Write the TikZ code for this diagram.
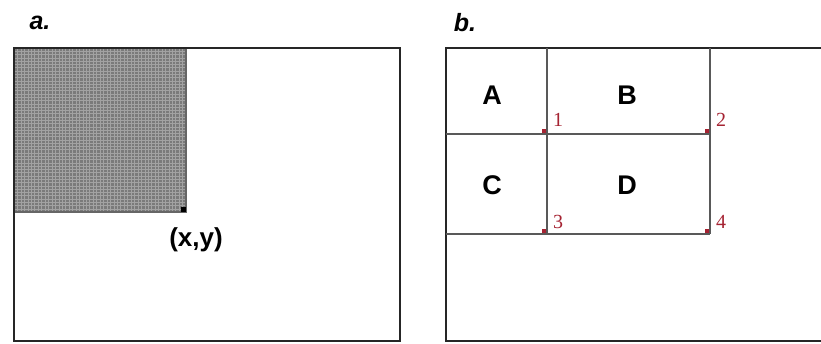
\documentclass[tikz,border=0pt]{standalone}
\usepackage{fontspec}
\setmainfont{Liberation Sans}
\newfontfamily\numfont{Liberation Serif}
\usepackage{xcolor}
\usetikzlibrary{positioning,calc}
\definecolor{cellred}{RGB}{165,35,50}
\definecolor{boxgray}{RGB}{122,122,122}

\begin{document}
\begin{tikzpicture}[x=1pt,y=-1pt,
  frame/.style={line width=1.9pt,black!85},
  cut/.style={line width=2pt,black!65},
  lbl/.style={font=\bfseries\fontsize{27}{27}\selectfont,inner sep=0pt},
  tag/.style={font=\bfseries\itshape\fontsize{25}{25}\selectfont,inner sep=0pt},
  num/.style={font=\numfont\fontsize{20}{20}\selectfont,text=cellred,inner sep=0pt},
  corner/.style={fill=cellred,minimum size=4.5pt,inner sep=0pt}]
\useasboundingbox (0,0) rectangle (821,343);
% panel a: integral image value at (x,y)
\begin{scope}
  \fill[boxgray] (14,48) rectangle (186,212);
  \foreach \k in {0,...,49}{
    \draw[boxgray!70!white,line width=0.4pt] (14+3.44*\k,48) -- (14+3.44*\k,212);
    \draw[boxgray!70!white,line width=0.4pt] (14,48+3.28*\k) -- (186,48+3.28*\k);
  }
  \draw[black!60,line width=1.4pt] (14,212) -- (186,212) -- (186,48);
  \draw[frame] (14,48) rectangle (400,341);
  \node[fill=black,minimum size=5pt,inner sep=0pt] (xy) at (183,209) {};
  \node[lbl,font=\bfseries\fontsize{26}{26}\selectfont] (xylbl) at (196,240) {(x,y)};
  \node[tag] (taga) at (40,23) {a.};
\end{scope}
% panel b: sum over D from corners 1--4
\begin{scope}
  \draw[frame] (821,48) -- (446,48) -- (446,341) -- (821,341);
  \coordinate (p1) at (546.5,133.5);
  \coordinate (p2) at (709.5,133.5);
  \coordinate (p3) at (546.5,233.5);
  \coordinate (p4) at (709.5,233.5);
  \draw[cut] (446,133.5) -- (p2);
  \draw[cut] (446,233.5) -- (p4);
  \draw[cut] (546.5,48) -- (p3);
  \draw[cut] (709.5,48) -- (p4);
  \node[lbl] (A) at (492,95) {A};
  \node[lbl] (B) at (627,95) {B};
  \node[lbl] (C) at (492,185) {C};
  \node[lbl] (D) at (627,185) {D};
  \foreach \i in {1,...,4}{
    \node[corner] (c\i) at ($(p\i)+(-2.5,-2.5)$) {};
  }
  \node[num] (n1) at (558,120) {1};
  \node[num] (n2) at (721,120) {2};
  \node[num] (n3) at (558,222) {3};
  \node[num] (n4) at (721,222) {4};
  \node[tag] (tagb) at (465,23) {b.};
\end{scope}
\end{tikzpicture}
\end{document}
